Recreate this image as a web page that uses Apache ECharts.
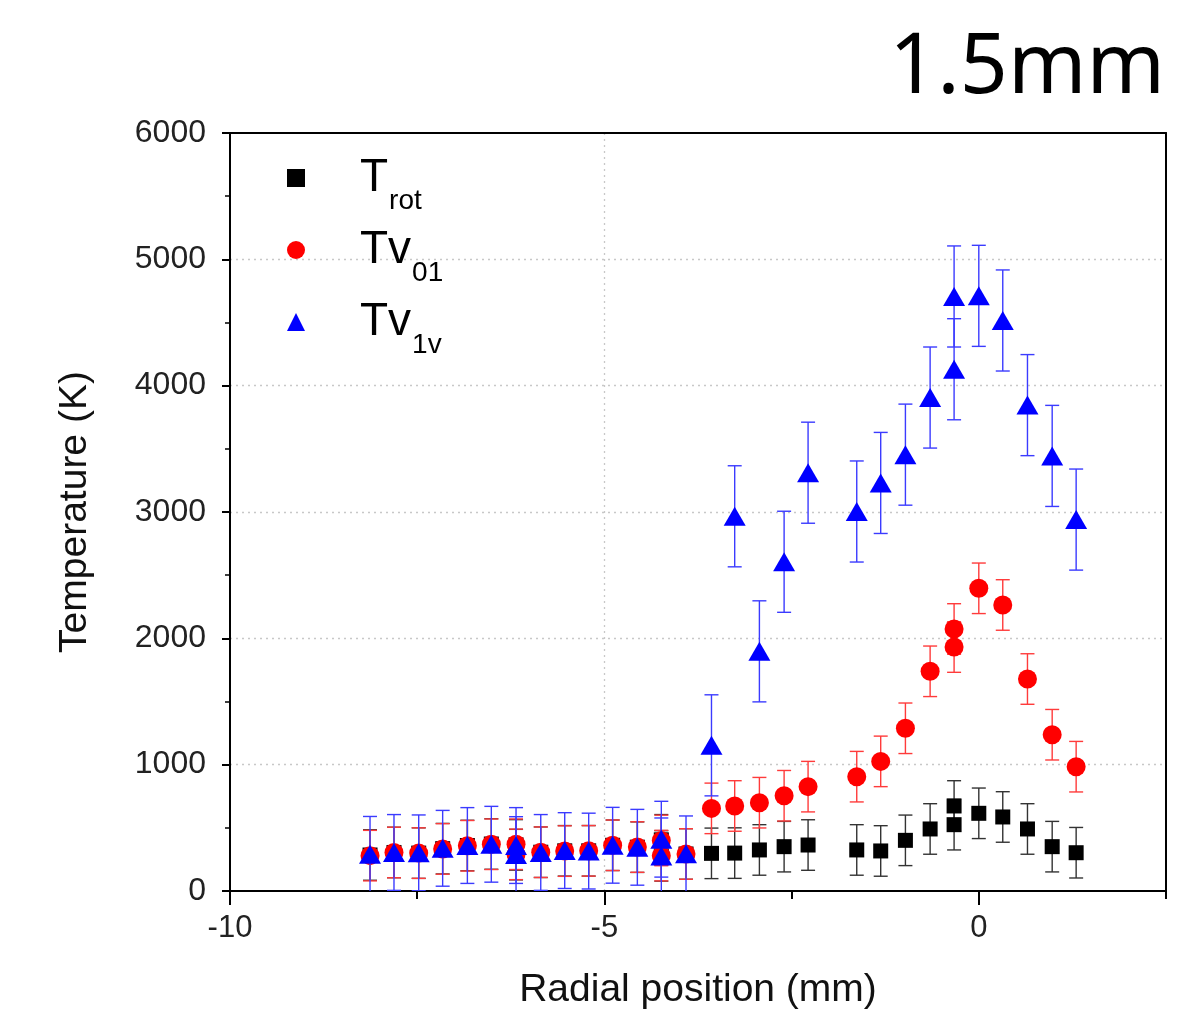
<!DOCTYPE html>
<html><head><meta charset="utf-8">
<script src="https://cdn.jsdelivr.net/npm/echarts@6/dist/echarts.min.js"></script>
<style>html,body{margin:0;padding:0;background:#fff}#c{width:1179px;height:1015px}</style>
</head><body><div id="c"></div>
<script>
// Radial positions (mm); repeated positions carry two measurements
const radialPos = [-8.13, -7.81, -7.48, -7.16, -6.83, -6.51, -6.18, -6.18, -5.85, -5.53, -5.21, -4.89, -4.56, -4.24, -4.24, -3.91,
  -3.57, -3.26, -2.93, -2.60, -2.28, -1.63, -1.31, -0.98, -0.65, -0.33, -0.33, 0.00, 0.32, 0.65, 0.98, 1.30];
const tRot = [285, 305, 300, 335, 360, 372, 365, 288, 307, 318, 318, 362, 347, 405, 278, 293,
  298, 300, 325, 351, 364, 325, 317, 401, 491, 673, 525, 615, 586, 491, 351, 303];
const tRotErr = [200, 200, 200, 200, 200, 200, 200, 200, 200, 200, 200, 200, 200, 200, 200, 200,
  200, 200, 200, 200, 200, 200, 200, 200, 200, 200, 200, 200, 200, 200, 200, 200];
const tv01 = [280, 305, 300, 333, 358, 370, 370, 290, 307, 316, 318, 362, 348, 400, 280, 293,
  654, 673, 699, 754, 826, 905, 1026, 1288, 1739, 2074, 1931, 2396, 2264, 1678, 1237, 984];
const tv01Err = [200, 200, 200, 200, 200, 200, 200, 200, 200, 200, 200, 200, 200, 200, 200, 200,
  200, 200, 200, 200, 200, 200, 200, 200, 200, 200, 200, 200, 200, 200, 200, 200];
const tv1v = [290, 305, 302, 338, 360, 370, 360, 288, 305, 320, 316, 362, 346, 410, 278, 294,
  1153, 2966, 1897, 2606, 3311, 3004, 3230, 3454, 3906, 4706, 4130, 4711, 4516, 3846, 3444, 2940];
const tv1vErr = [300, 300, 300, 300, 300, 300, 300, 300, 300, 300, 300, 300, 300, 300, 300, 300,
  400, 400, 400, 400, 400, 400, 400, 400, 400, 400, 400, 400, 400, 400, 400, 400];
const xLabelTicks = [-10, -5, 0];
const titleText = '1.5mm';

const mk = (vals, errs) => radialPos.map((x, i) => [x, vals[i], errs[i]]);
function errRender(color) {
  return function (params, api) {
    const x = api.value(0), y = api.value(1), e = api.value(2);
    const hi = api.coord([x, y + e]), lo = api.coord([x, y - e]);
    const w = 7;
    const style = { stroke: color, lineWidth: 1.4 };
    return { type: 'group', children: [
      { type: 'line', shape: { x1: hi[0], y1: hi[1], x2: lo[0], y2: lo[1] }, style },
      { type: 'line', shape: { x1: hi[0] - w, y1: hi[1], x2: hi[0] + w, y2: hi[1] }, style },
      { type: 'line', shape: { x1: lo[0] - w, y1: lo[1], x2: lo[0] + w, y2: lo[1] }, style }
    ]};
  };
}
const FONT = '"Liberation Sans", Arial, sans-serif';
const dotted = { show: true, showMinLine: false, showMaxLine: false, lineStyle: { color: '#c8c8c8', type: [2, 4], width: 1.3 } };
const chart = echarts.init(document.getElementById('c'));
chart.setOption({
  animation: false,
  backgroundColor: '#fff',
  title: { text: titleText, right: 14, top: 27, padding: 0,
    textStyle: { fontFamily: '"Noto Sans", sans-serif', fontSize: 84, fontWeight: 'normal', color: '#000' } },
  grid: { left: 230, right: 13, top: 133, bottom: 124, show: false },
  legend: {
    orient: 'vertical', left: 287, top: 143, padding: 0, itemGap: 0, itemWidth: 18, itemHeight: 18,
    data: ['Trot', 'Tv01', 'Tv1v'],
    formatter: n => ({ Trot: '{m|T}{s|rot}', Tv01: '{m|Tv}{s|01}', Tv1v: '{m|Tv}{s|1v}' })[n],
    textStyle: { color: '#000', fontFamily: FONT, rich: {
      m: { fontSize: 46, lineHeight: 70, padding: [0, 0, 0, 50], fontFamily: FONT, color: '#000' },
      s: { fontSize: 28, lineHeight: 24, padding: [44, 0, 0, 1], verticalAlign: 'top', fontFamily: FONT, color: '#000' }
    } }
  },
  xAxis: [{
    type: 'value', min: -10, max: 2.5, interval: 5,
    name: 'Radial position (mm)', nameLocation: 'middle', nameGap: 80,
    nameTextStyle: { fontFamily: FONT, fontSize: 39, color: '#111' },
    axisLine: { onZero: false, lineStyle: { color: '#000', width: 2 } },
    axisTick: { length: 14, customValues: xLabelTicks, lineStyle: { color: '#000', width: 2 } },
    axisLabel: { customValues: xLabelTicks, fontFamily: FONT, fontSize: 31, color: '#222', margin: 22,
      formatter: v => (v % 5 === 0 ? String(v) : '') },
    splitLine: dotted
  }, {
    type: 'value', min: -10, max: 2.5, interval: 2.5, position: 'bottom',
    axisLine: { show: false }, axisLabel: { show: false }, splitLine: { show: false },
    axisTick: { length: 8, lineStyle: { color: '#000', width: 2 } }
  }, {
    type: 'value', min: -10, max: 2.5, position: 'top',
    axisLine: { onZero: false, lineStyle: { color: '#000', width: 2 } },
    axisTick: { show: false }, axisLabel: { show: false }, splitLine: { show: false }
  }],
  yAxis: [{
    type: 'value', min: 0, max: 6000, interval: 1000,
    name: 'Temperature (K)', nameLocation: 'middle', nameGap: 135,
    nameTextStyle: { fontFamily: FONT, fontSize: 39, color: '#111' },
    axisLine: { show: true, onZero: false, lineStyle: { color: '#000', width: 2 } },
    axisTick: { show: true, length: 8, lineStyle: { color: '#000', width: 2 } },
    minorTick: { show: true, splitNumber: 2, length: 5, lineStyle: { color: '#000', width: 1.5 } },
    axisLabel: { fontFamily: FONT, fontSize: 32, color: '#222', margin: 24, formatter: v => String(v) },
    splitLine: dotted
  }, {
    type: 'value', min: 0, max: 6000, position: 'right',
    axisLine: { show: true, onZero: false, lineStyle: { color: '#000', width: 2 } },
    axisTick: { show: false }, axisLabel: { show: false }, splitLine: { show: false }
  }],
  series: [
    { name: 'Trot err', type: 'custom', z: 2, clip: true, renderItem: errRender('#333'), data: mk(tRot, tRotErr) },
    { name: 'Trot', type: 'scatter', z: 3, symbol: 'rect', symbolSize: 15, itemStyle: { color: '#000', opacity: 1 }, data: mk(tRot, tRotErr) },
    { name: 'Tv01 err', type: 'custom', z: 4, clip: true, renderItem: errRender('#ff3b3b'), data: mk(tv01, tv01Err) },
    { name: 'Tv01', type: 'scatter', z: 5, symbol: 'circle', symbolSize: 19, itemStyle: { color: '#ff0000', opacity: 1 }, data: mk(tv01, tv01Err) },
    { name: 'Tv1v err', type: 'custom', z: 6, clip: true, renderItem: errRender('#3b3bff'), data: mk(tv1v, tv1vErr) },
    { name: 'Tv1v', type: 'scatter', z: 7, symbol: 'triangle', symbolSize: [22, 19], itemStyle: { color: '#0000ff', opacity: 1 }, data: mk(tv1v, tv1vErr) }
  ]
});
</script></body></html>
